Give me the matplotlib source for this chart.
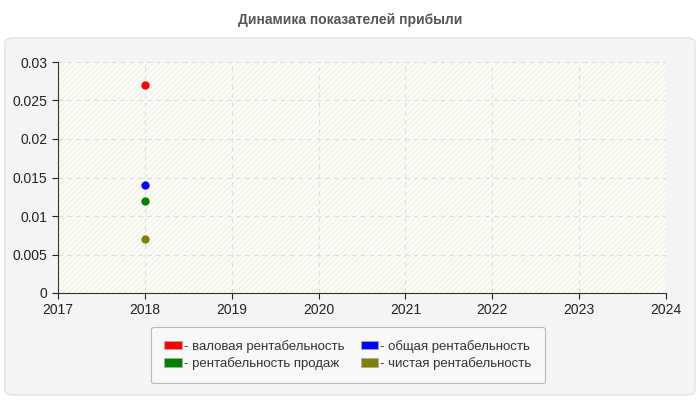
import matplotlib
matplotlib.use("Agg")
import matplotlib.pyplot as plt
import matplotlib.patches as mpatches
from matplotlib.patches import FancyBboxPatch

plt.rcParams['font.family'] = ['Liberation Sans', 'DejaVu Sans']

years = [2018]
gross = [0.027]
total = [0.014]
sales = [0.012]
net = [0.007]
series_names = ["- валовая рентабельность", "- общая рентабельность",
                "- рентабельность продаж", "- чистая рентабельность"]
series_colors = ["#ff0000", "#0000ff", "#008000", "#808000"]
x_ticks = [2017, 2018, 2019, 2020, 2021, 2022, 2023, 2024]
y_ticks = [0, 0.005, 0.01, 0.015, 0.02, 0.025, 0.03]
y_labels = ["0", "0.005", "0.01", "0.015", "0.02", "0.025", "0.03"]

fig = plt.figure(figsize=(7, 4), dpi=100)
fig.patch.set_facecolor("white")

# rounded panel behind the chart
panel = FancyBboxPatch((5 / 700, 5 / 400), 690 / 700, 357 / 400,
                       boxstyle="round,pad=0,rounding_size=0.012",
                       transform=fig.transFigure, facecolor="#f4f4f4",
                       edgecolor="#e2e2e2", lw=1, zorder=-5)
fig.patches.append(panel)

fig.text(0.5, 1 - 20 / 400, "Динамика показателей прибыли", ha="center", va="center",
         fontsize=10, fontweight="bold", color="#555555")

ax = fig.add_axes([58 / 700, 1 - 293 / 400, 608 / 700, 231 / 400], zorder=1)
ax.set_facecolor("#fdfdf7")
ax.add_patch(mpatches.Rectangle((0, 0), 1, 1, transform=ax.transAxes, fill=False,
                                hatch="//////", edgecolor="#f1f1ea", lw=0, zorder=0))

data = [gross, total, sales, net]
for vals, c in zip(data, series_colors):
    ax.plot(years, vals, "o", color=c, markersize=5, zorder=3)

ax.set_xlim(2017, 2024)
ax.set_ylim(0, 0.03)
ax.set_xticks(x_ticks)
ax.set_yticks(y_ticks)
ax.set_yticklabels(y_labels)
ax.grid(True, ls=(0, (4, 4)), color="#dcdcdc", lw=0.8)
ax.set_axisbelow(True)
for s in ["top", "right"]:
    ax.spines[s].set_visible(False)
for s in ["left", "bottom"]:
    ax.spines[s].set_color("#333333")
ax.tick_params(labelsize=10, colors="#222222", length=4)

# legend is filled column by column, so reorder to keep rows as in the reference
order = [0, 2, 1, 3]
handles = [mpatches.Patch(facecolor=series_colors[i], edgecolor="#aaaaaa", lw=0.5) for i in order]
labels = [series_names[i] for i in order]
leg = fig.legend(handles, labels, loc="center", bbox_to_anchor=(348 / 700, 1 - 355 / 400),
                 ncol=2, fontsize=9.5, frameon=True, handlelength=1.3, handleheight=0.6,
                 handletextpad=0.15, columnspacing=1.3, labelspacing=0.35,
                 borderpad=1.0, fancybox=True)
leg.get_frame().set_edgecolor("#aaaaaa")
leg.get_frame().set_facecolor("#fafafa")
leg.get_frame().set_linewidth(0.8)
for t in leg.get_texts():
    t.set_color("#333333")

fig.savefig("out.png", dpi=100, facecolor=fig.get_facecolor())
